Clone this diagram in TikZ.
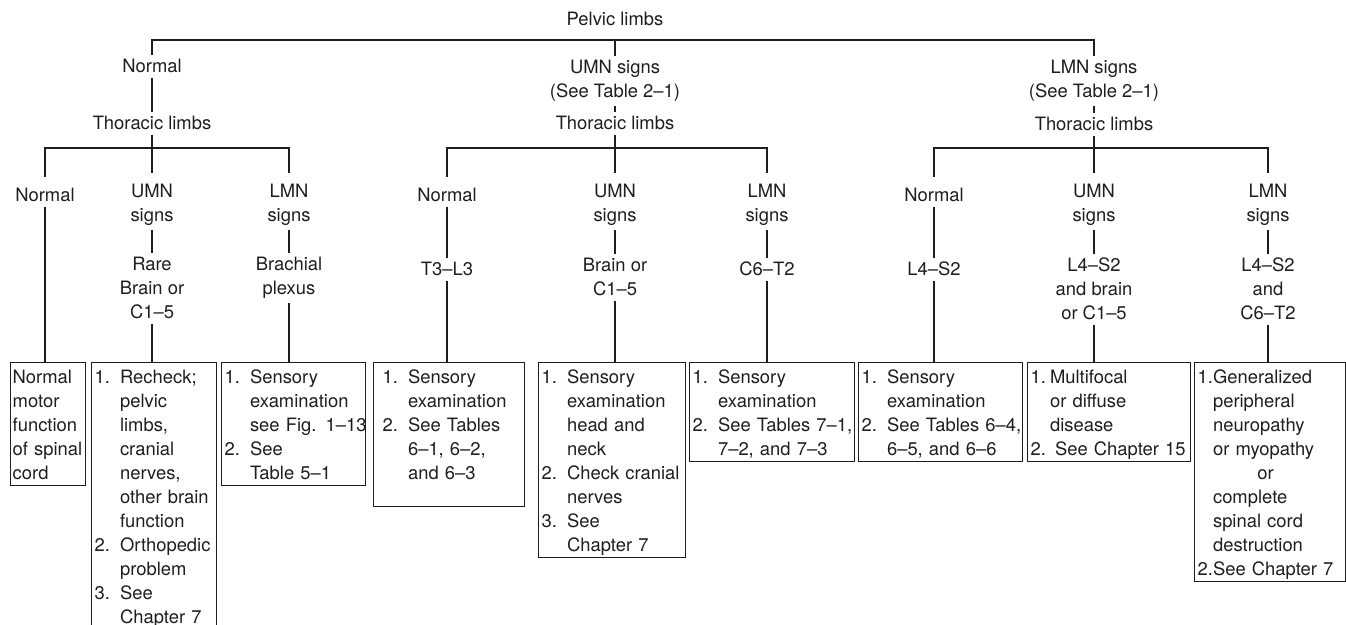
\documentclass[tikz,border=0pt]{standalone}
\usepackage{fontspec}
\setmainfont{TeX Gyre Heros}
\usetikzlibrary{positioning}
\definecolor{ink}{HTML}{1E1E1E}

\begin{document}
\begin{tikzpicture}[
    x=0.5pt, y=-0.5pt,
    head/.style={align=center, inner sep=2pt, anchor=base, text=ink,
                 font=\fontsize{9.2}{12}\selectfont},
    note/.style={draw=ink, line width=0.7pt, anchor=north west, align=left,
                 inner xsep=1.5pt, inner ysep=2pt, text height=8.5pt, text=ink,
                 font=\fontsize{9.2}{12}\selectfont},
    ln/.style={draw=ink, line width=0.6pt},
    drop/.style={ln, shorten >=3.5pt}
  ]
  \useasboundingbox (0,0) rectangle (1346,625);
  %% Pelvic limbs (multi-line heads sit on the baseline of their last line)
  \node[head] (pel) at (615,26)  {Pelvic limbs};
  \node[head] (pN)  at (152,73)  {Normal};
  \node[head] (pU)  at (615,98)  {UMN signs\\(See Table 2–1)};
  \node[head] (pL)  at (1094,98) {LMN signs\\(See Table 2–1)};
  \coordinate (bar0) at (615,40);
  \draw[ln] (pN.north) |- (bar0) -| (pL.north);
  \draw[ln] (bar0) -- (pU.north);
  %% Thoracic limbs
  \node[head] (tN) at (152,130)  {Thoracic limbs};
  \node[head] (tU) at (615,130)  {Thoracic limbs};
  \node[head] (tL) at (1094,131) {Thoracic limbs};
  \draw[ln] (pN) -- (tN);
  \draw[ln] (pU) -- (tU);
  \draw[ln] (pL) -- (tL);
  %% Group 1: pelvic limbs normal
  \node[head] (n1)  at (45,202)  {Normal};
  \node[head] (u1)  at (152,222) {UMN\\signs};
  \node[head] (l1)  at (289,222) {LMN\\signs};
  \coordinate (bar1) at (152,148);
  \draw[ln] (tN) -- (bar1);
  \draw[drop] (bar1) -| (n1.north);
  \draw[drop] (bar1) -- (u1.north);
  \draw[drop] (bar1) -| (l1.north);
  \node[head] (u1s) at (152,319) {Rare\\Brain or\\C1–5};
  \node[head] (l1s) at (289,295) {Brachial\\plexus};
  \draw[ln] (u1) -- (u1s);
  \draw[ln] (l1) -- (l1s);
  \node[note, text width=35.5pt, inner xsep=1pt, text depth=49pt] (n1b) at (10,362)
    {Normal\\motor\\function\\of~spinal\\cord};
  \node[note, text width=59.5pt, text depth=121pt] (u1b) at (91,362)
    {\begin{tabular}[t]{@{}l@{\hspace{5pt}}l@{}}
     1.&Recheck;\\ &pelvic\\ &limbs,\\ &cranial\\ &nerves,\\ &other brain\\ &function\\
     2.&Orthopedic\\ &problem\\ 3.&See\\ &Chapter 7
     \end{tabular}};
  \node[note, text width=69pt, text depth=49pt] (l1b) at (221,362)
    {\begin{tabular}[t]{@{}l@{\hspace{5pt}}l@{}}
     1.&Sensory\\ &examination\\ &see Fig. 1–13\\ 2.&See\\ &Table 5–1
     \end{tabular}};
  \draw[ln] (n1) -- (n1 |- n1b.north);
  \draw[ln] (u1s) -- (u1s |- u1b.north);
  \draw[ln] (l1s) -- (l1s |- l1b.north);
  %% Group 2: pelvic limbs UMN signs
  \node[head] (n2)  at (447,202) {Normal};
  \node[head] (u2)  at (615,222) {UMN\\signs};
  \node[head] (l2)  at (767,222) {LMN\\signs};
  \coordinate (bar2) at (615,148);
  \draw[ln] (tU) -- (bar2);
  \draw[drop] (bar2) -| (n2.north);
  \draw[drop] (bar2) -- (u2.north);
  \draw[drop] (bar2) -| (l2.north);
  \node[head] (n2s) at (447,276) {T3–L3};
  \node[head] (u2s) at (615,296) {Brain or\\C1–5};
  \node[head] (l2s) at (767,276) {C6–T2};
  \draw[ln] (n2) -- (n2s);
  \draw[ln] (u2) -- (u2s);
  \draw[ln] (l2) -- (l2s);
  \node[note, text width=66.5pt, inner xsep=4.5pt, text depth=59.5pt] (n2b) at (373,362)
    {\begin{tabular}[t]{@{}l@{\hspace{5pt}}l@{}}
     1.&Sensory\\ &examination\\ 2.&See Tables\\ &6–1, 6–2,\\ &and 6–3
     \end{tabular}};
  \node[note, text width=70.5pt, text depth=85pt] (u2b) at (538,362)
    {\begin{tabular}[t]{@{}l@{\hspace{5pt}}l@{}}
     1.&Sensory\\ &examination\\ &head and\\ &neck\\ 2.&Check cranial\\ &nerves\\
     3.&See\\ &Chapter 7
     \end{tabular}};
  \node[note, text width=79.5pt, text depth=37pt] (l2b) at (689,362)
    {\begin{tabular}[t]{@{}l@{\hspace{5pt}}l@{}}
     1.&Sensory\\ &examination\\ 2.&See Tables 7–1,\\ &7–2, and 7–3
     \end{tabular}};
  \draw[ln] (n2s) -- (n2s |- n2b.north);
  \draw[ln] (u2s) -- (u2s |- u2b.north);
  \draw[ln] (l2s) -- (l2s |- l2b.north);
  %% Group 3: pelvic limbs LMN signs
  \node[head] (n3)  at (934,202)  {Normal};
  \node[head] (u3)  at (1094,222) {UMN\\signs};
  \node[head] (l3)  at (1268,222) {LMN\\signs};
  \coordinate (bar3) at (1094,148);
  \draw[ln] (tL) -- (bar3);
  \draw[drop] (bar3) -| (n3.north);
  \draw[drop] (bar3) -- (u3.north);
  \draw[drop] (bar3) -| (l3.north);
  \node[head] (n3s) at (934,276)  {L4–S2};
  \node[head] (u3s) at (1094,320) {L4–S2\\and brain\\or C1–5};
  \node[head] (l3s) at (1268,320) {L4–S2\\and\\C6–T2};
  \draw[ln] (n3) -- (n3s);
  \draw[ln] (u3) -- (u3s);
  \draw[ln] (l3) -- (l3s);
  \node[note, text width=79pt, text depth=37pt] (n3b) at (858,362)
    {\begin{tabular}[t]{@{}l@{\hspace{5pt}}l@{}}
     1.&Sensory\\ &examination\\ 2.&See Tables 6–4,\\ &6–5, and 6–6
     \end{tabular}};
  \node[note, text width=78.5pt, text depth=37pt] (u3b) at (1027,362)
    {\begin{tabular}[t]{@{}l@{\hspace{2pt}}l@{}}
     1.&Multifocal\\ &or diffuse\\ &disease\\ 2.&\hspace{2.5pt}See Chapter 15
     \end{tabular}};
  \node[note, text width=72.5pt, text depth=97pt] (l3b) at (1194,362)
    {\begin{tabular}[t]{@{}l@{}l@{}}
     1.&Generalized\\ &peripheral\\ &neuropathy\\ &or myopathy\\ \multicolumn{2}{c}{or}\\
     &complete\\ &spinal cord\\ &destruction\\ 2.&See Chapter 7
     \end{tabular}};
  \draw[ln] (n3s) -- (n3s |- n3b.north);
  \draw[ln] (u3s) -- (u3s |- u3b.north);
  \draw[ln] (l3s) -- (l3s |- l3b.north);
\end{tikzpicture}
\end{document}
